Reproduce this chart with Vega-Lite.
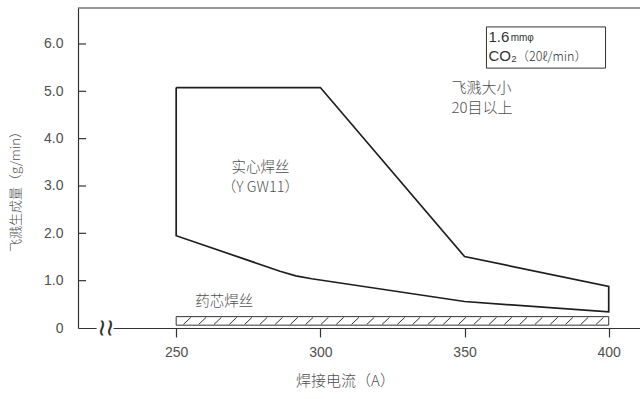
{
  "$schema": "https://vega.github.io/schema/vega-lite/v6.json",
  "width": 562,
  "height": 320,
  "autosize": {"type": "none"},
  "padding": {"left": 78, "top": 8, "right": 0, "bottom": 71},
  "background": "white",
  "config": {
    "view": {"stroke": null},
    "font": "Liberation Sans",
    "text": {"color": "#444"}
  },
  "datasets": {
    "outline": [
      {"a": 250, "g": 5.08, "o": 1},
      {"a": 300, "g": 5.08, "o": 2},
      {"a": 350, "g": 1.51, "o": 3},
      {"a": 400, "g": 0.88, "o": 4},
      {"a": 400, "g": 0.34, "o": 5},
      {"a": 350, "g": 0.56, "o": 6},
      {"a": 297, "g": 1.04, "o": 7},
      {"a": 291.5, "g": 1.1, "o": 8},
      {"a": 286, "g": 1.2, "o": 9},
      {"a": 250, "g": 1.95, "o": 10},
      {"a": 250, "g": 5.08, "o": 11}
    ],
    "yTicks": [
      {"a": 215.95, "a2": 218.75, "g": 1},
      {"a": 215.95, "a2": 218.75, "g": 2},
      {"a": 215.95, "a2": 218.75, "g": 3},
      {"a": 215.95, "a2": 218.75, "g": 4},
      {"a": 215.95, "a2": 218.75, "g": 5},
      {"a": 215.95, "a2": 218.75, "g": 6}
    ],
    "flux": [
      {"a": 250, "a2": 400, "g": 0.06, "g2": 0.24}
    ],
    "hatch": [
      {"a": 252.5, "a2": 255.1, "g": 0.075, "g2": 0.225},
      {"a": 257.8, "a2": 260.4, "g": 0.075, "g2": 0.225},
      {"a": 263.1, "a2": 265.7, "g": 0.075, "g2": 0.225},
      {"a": 268.4, "a2": 271.0, "g": 0.075, "g2": 0.225},
      {"a": 273.7, "a2": 276.3, "g": 0.075, "g2": 0.225},
      {"a": 279.0, "a2": 281.6, "g": 0.075, "g2": 0.225},
      {"a": 284.3, "a2": 286.9, "g": 0.075, "g2": 0.225},
      {"a": 289.6, "a2": 292.2, "g": 0.075, "g2": 0.225},
      {"a": 294.9, "a2": 297.5, "g": 0.075, "g2": 0.225},
      {"a": 300.2, "a2": 302.8, "g": 0.075, "g2": 0.225},
      {"a": 305.5, "a2": 308.1, "g": 0.075, "g2": 0.225},
      {"a": 310.8, "a2": 313.4, "g": 0.075, "g2": 0.225},
      {"a": 316.1, "a2": 318.7, "g": 0.075, "g2": 0.225},
      {"a": 321.4, "a2": 324.0, "g": 0.075, "g2": 0.225},
      {"a": 326.7, "a2": 329.3, "g": 0.075, "g2": 0.225},
      {"a": 332.0, "a2": 334.6, "g": 0.075, "g2": 0.225},
      {"a": 337.3, "a2": 339.9, "g": 0.075, "g2": 0.225},
      {"a": 342.6, "a2": 345.2, "g": 0.075, "g2": 0.225},
      {"a": 347.9, "a2": 350.5, "g": 0.075, "g2": 0.225},
      {"a": 353.2, "a2": 355.8, "g": 0.075, "g2": 0.225},
      {"a": 358.5, "a2": 361.1, "g": 0.075, "g2": 0.225},
      {"a": 363.8, "a2": 366.4, "g": 0.075, "g2": 0.225},
      {"a": 369.1, "a2": 371.7, "g": 0.075, "g2": 0.225},
      {"a": 374.4, "a2": 377.0, "g": 0.075, "g2": 0.225},
      {"a": 379.7, "a2": 382.3, "g": 0.075, "g2": 0.225},
      {"a": 385.0, "a2": 387.6, "g": 0.075, "g2": 0.225},
      {"a": 390.3, "a2": 392.9, "g": 0.075, "g2": 0.225},
      {"a": 395.6, "a2": 398.2, "g": 0.075, "g2": 0.225}
    ],
    "noteBox": [
      {"a": 357.6, "a2": 398.9, "g": 5.49, "g2": 6.36}
    ],
    "breakGap": [
      {"a": 222.4, "a2": 228.3, "g": -0.06, "g2": 0.06}
    ],
    "breakMarks": [
      {"a": 224.0, "g": 0, "t": "~"},
      {"a": 226.7, "g": 0, "t": "~"}
    ],
    "centerNotes": [
      {"a": 279.2, "g": 3.37, "t": "实心焊丝"},
      {"a": 279.2, "g": 2.95, "t": "（Y GW11）"},
      {"a": 266.7, "g": 0.55, "t": "药芯焊丝"}
    ],
    "leftNotes": [
      {"a": 345.5, "g": 5.08, "t": "飞溅大小"},
      {"a": 345.5, "g": 4.64, "t": "20目以上"}
    ],
    "boxMain": [
      {"a": 358.3, "g": 6.15, "t": "1.6"},
      {"a": 358.3, "g": 5.74, "t": "CO₂"}
    ],
    "boxUnit": [
      {"a": 366.0, "g": 6.12, "t": "mmφ"}
    ],
    "boxFlow": [
      {"a": 368.0, "g": 5.73, "t": "（20ℓ/min）"}
    ]
  },
  "layer": [
    {
      "data": {"name": "outline"},
      "mark": {"type": "line", "color": "#1e1e1e", "strokeWidth": 1.7, "strokeJoin": "miter"},
      "encoding": {
        "x": {
          "field": "a", "type": "quantitative",
          "scale": {"domain": [215.95, 410.85], "nice": false, "zero": false},
          "axis": {
            "values": [250, 300, 350, 400],
            "format": "d",
            "grid": false,
            "domainColor": "#333", "domainWidth": 1.2,
            "tickColor": "#333", "tickSize": 9, "tickWidth": 1.2,
            "labelFontSize": 14, "labelColor": "#505050", "labelPadding": 8,
            "labelFont": "Liberation Sans",
            "title": "焊接电流（A）",
            "titleFont": "Noto Sans CJK SC", "titleFontSize": 15, "titleFontWeight": 300,
            "titleColor": "#505050", "titleX": 267, "titleY": 52, "titleBaseline": "middle", "titleAlign": "center", "titleAnchor": null
          }
        },
        "y": {
          "field": "g", "type": "quantitative",
          "scale": {"domain": [0, 6.76], "nice": false, "zero": false},
          "axis": {
            "values": [0, 1, 2, 3, 4, 5, 6],
            "labelExpr": "datum.value === 0 ? '0' : format(datum.value, '.1f')",
            "grid": false,
            "domainColor": "#333", "domainWidth": 1.2,
            "ticks": false,
            "labelFontSize": 14, "labelColor": "#505050", "labelPadding": 15,
            "labelFont": "Liberation Sans",
            "title": "飞溅生成量（g/min）",
            "titleFont": "Noto Sans CJK SC", "titleFontSize": 13, "titleFontWeight": 300,
            "titleColor": "#505050", "titleX": -63, "titleY": 180, "titleAngle": -90,
            "titleBaseline": "middle", "titleAlign": "center", "titleAnchor": null
          }
        },
        "order": {"field": "o", "type": "quantitative"}
      }
    },
    {
      "data": {"name": "yTicks"},
      "mark": {"type": "rule", "color": "#333", "strokeWidth": 1.2},
      "encoding": {
        "x": {"field": "a", "type": "quantitative"},
        "x2": {"field": "a2"},
        "y": {"field": "g", "type": "quantitative"}
      }
    },
    {
      "data": {"name": "outline"},
      "mark": {"type": "rule", "color": "#333", "strokeWidth": 1.2},
      "transform": [{"filter": "datum.o === 1"}],
      "encoding": {"y": {"datum": 6.76}}
    },
    {
      "data": {"name": "flux"},
      "mark": {"type": "rect", "fill": "white", "stroke": "#333", "strokeWidth": 1},
      "encoding": {
        "x": {"field": "a", "type": "quantitative"},
        "x2": {"field": "a2"},
        "y": {"field": "g", "type": "quantitative"},
        "y2": {"field": "g2"}
      }
    },
    {
      "data": {"name": "hatch"},
      "mark": {"type": "rule", "color": "#333", "strokeWidth": 1},
      "encoding": {
        "x": {"field": "a", "type": "quantitative"},
        "x2": {"field": "a2"},
        "y": {"field": "g", "type": "quantitative"},
        "y2": {"field": "g2"}
      }
    },
    {
      "data": {"name": "noteBox"},
      "mark": {"type": "rect", "fill": "white", "stroke": "#333", "strokeWidth": 1},
      "encoding": {
        "x": {"field": "a", "type": "quantitative"},
        "x2": {"field": "a2"},
        "y": {"field": "g", "type": "quantitative"},
        "y2": {"field": "g2"}
      }
    },
    {
      "data": {"name": "breakGap"},
      "mark": {"type": "rect", "fill": "white", "clip": false},
      "encoding": {
        "x": {"field": "a", "type": "quantitative"},
        "x2": {"field": "a2"},
        "y": {"field": "g", "type": "quantitative"},
        "y2": {"field": "g2"}
      }
    },
    {
      "data": {"name": "breakMarks"},
      "mark": {"type": "text", "font": "Liberation Sans", "fontSize": 30, "angle": 90, "baseline": "middle", "align": "center", "color": "#333", "clip": false},
      "encoding": {
        "x": {"field": "a", "type": "quantitative"},
        "y": {"field": "g", "type": "quantitative"},
        "text": {"field": "t"}
      }
    },
    {
      "data": {"name": "centerNotes"},
      "mark": {"type": "text", "font": "Noto Sans CJK SC", "fontWeight": 300, "fontSize": 14.5, "baseline": "middle", "align": "center", "color": "#505050"},
      "encoding": {
        "x": {"field": "a", "type": "quantitative"},
        "y": {"field": "g", "type": "quantitative"},
        "text": {"field": "t"}
      }
    },
    {
      "data": {"name": "leftNotes"},
      "mark": {"type": "text", "font": "Noto Sans CJK SC", "fontWeight": 300, "fontSize": 15, "baseline": "middle", "align": "left", "color": "#505050"},
      "encoding": {
        "x": {"field": "a", "type": "quantitative"},
        "y": {"field": "g", "type": "quantitative"},
        "text": {"field": "t"}
      }
    },
    {
      "data": {"name": "boxMain"},
      "mark": {"type": "text", "font": "Liberation Sans", "fontSize": 15, "baseline": "middle", "align": "left", "color": "#333"},
      "encoding": {
        "x": {"field": "a", "type": "quantitative"},
        "y": {"field": "g", "type": "quantitative"},
        "text": {"field": "t"}
      }
    },
    {
      "data": {"name": "boxUnit"},
      "mark": {"type": "text", "font": "Liberation Sans", "fontSize": 10, "baseline": "middle", "align": "left", "color": "#333"},
      "encoding": {
        "x": {"field": "a", "type": "quantitative"},
        "y": {"field": "g", "type": "quantitative"},
        "text": {"field": "t"}
      }
    },
    {
      "data": {"name": "boxFlow"},
      "mark": {"type": "text", "font": "Noto Sans CJK SC", "fontWeight": 300, "fontSize": 12.5, "baseline": "middle", "align": "left", "color": "#333"},
      "encoding": {
        "x": {"field": "a", "type": "quantitative"},
        "y": {"field": "g", "type": "quantitative"},
        "text": {"field": "t"}
      }
    }
  ]
}
